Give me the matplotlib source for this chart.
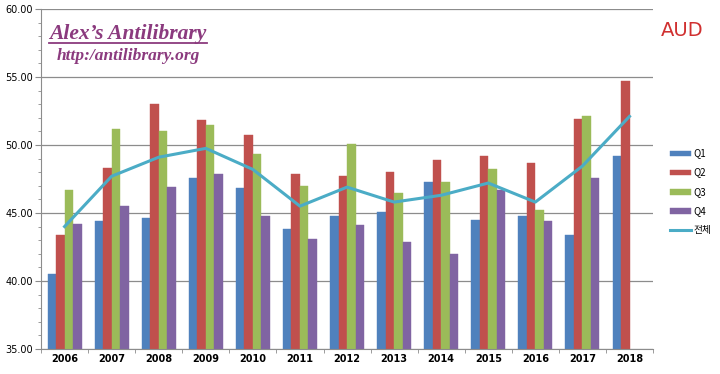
import matplotlib
matplotlib.use("Agg")
import matplotlib.pyplot as plt
import numpy as np
from matplotlib.ticker import MultipleLocator, FixedLocator

years = ["2006", "2007", "2008", "2009", "2010", "2011", "2012", "2013",
         "2014", "2015", "2016", "2017", "2018"]
q1 = [40.5, 44.4, 44.6, 47.6, 46.8, 43.8, 44.8, 45.1, 47.3, 44.5, 44.8, 43.4, 49.2]
q2 = [43.4, 48.3, 53.0, 51.8, 50.7, 47.9, 47.7, 48.0, 48.9, 49.2, 48.65, 51.9, 54.7]
q3 = [46.7, 51.2, 51.0, 51.5, 49.3, 47.0, 50.05, 46.5, 47.3, 48.2, 45.2, 52.1, np.nan]
q4 = [44.2, 45.5, 46.9, 47.9, 44.8, 43.1, 44.1, 42.9, 42.0, 46.7, 44.4, 47.6, np.nan]
total = [44.0, 47.7, 49.1, 49.75, 48.2, 45.5, 46.9, 45.8, 46.3, 47.2, 45.8, 48.45, 52.1]
series_names = ["Q1", "Q2", "Q3", "Q4"]
line_name = "전체"

colors = ["#4F81BD", "#C0504D", "#9BBB59", "#8064A2"]
line_color = "#4BACC6"

fig = plt.figure(figsize=(7.2, 3.74), dpi=100)
ax = fig.add_axes([0.057, 0.067, 0.850, 0.909])

x = np.arange(len(years))
bw = 0.18
handles = []
for i, (vals, c, nm) in enumerate(zip([q1, q2, q3, q4], colors, series_names)):
    v = np.array(vals, dtype=float)
    b = ax.bar(x + (i - 1.5) * bw, v - 35, bottom=35, width=bw, color=c,
               edgecolor=c, linewidth=0.3, label=nm, zorder=2)
    handles.append(b)
ln, = ax.plot(x, total, color=line_color, lw=2.2, label=line_name, zorder=3)
handles.append(ln)

ax.set_xlim(-0.5, len(years) - 0.5)
ax.set_ylim(35, 60)
ax.yaxis.set_major_locator(MultipleLocator(5))
ax.yaxis.set_minor_locator(MultipleLocator(1))
ax.set_yticks(np.arange(35, 60.1, 5))
ax.set_yticklabels([f"{v:.2f}" for v in np.arange(35, 60.1, 5)], fontsize=7)
ax.grid(axis="y", which="major", color="#8c8c8c", lw=0.9, zorder=0)
ax.set_axisbelow(True)

ax.set_xticks(x)
ax.set_xticklabels(years, fontsize=7, fontweight="bold")
ax.tick_params(axis="x", length=0, pad=4)
ax.xaxis.set_minor_locator(FixedLocator(np.arange(-0.5, len(years), 1)))
ax.tick_params(axis="x", which="minor", length=3, color="#8c8c8c")
ax.tick_params(axis="y", which="major", length=4, color="#8c8c8c", pad=2)
ax.tick_params(axis="y", which="minor", length=2, color="#8c8c8c")

for s in ["top", "right"]:
    ax.spines[s].set_visible(False)
for s in ["left", "bottom"]:
    ax.spines[s].set_color("#8c8c8c")

fig.text(0.068, 0.897, "Alex’s Antilibrary", fontsize=15.5, color="#8B3A7E",
         family="Liberation Serif", style="italic", fontweight="bold")
fig.add_artist(plt.Line2D([0.068, 0.287], [0.885, 0.885], color="#8B3A7E", lw=1.3))
fig.text(0.078, 0.840, "http:/antilibrary.org", fontsize=12.5, color="#8B3A7E",
         family="Liberation Serif", style="italic", fontweight="bold")
fig.text(0.918, 0.905, "AUD", fontsize=14, color="#D03030", family="DejaVu Sans")

leg = fig.legend(handles=handles, labels=series_names + [line_name],
                 loc="upper left", bbox_to_anchor=(0.918, 0.627), frameon=False,
                 labelspacing=0.95, handlelength=2.2, handletextpad=0.2,
                 prop={"family": ["Noto Sans CJK KR", "DejaVu Sans"], "size": 7})
for h in leg.legend_handles[:4]:
    h.set_height(4)

fig.savefig("out.png", dpi=100)
